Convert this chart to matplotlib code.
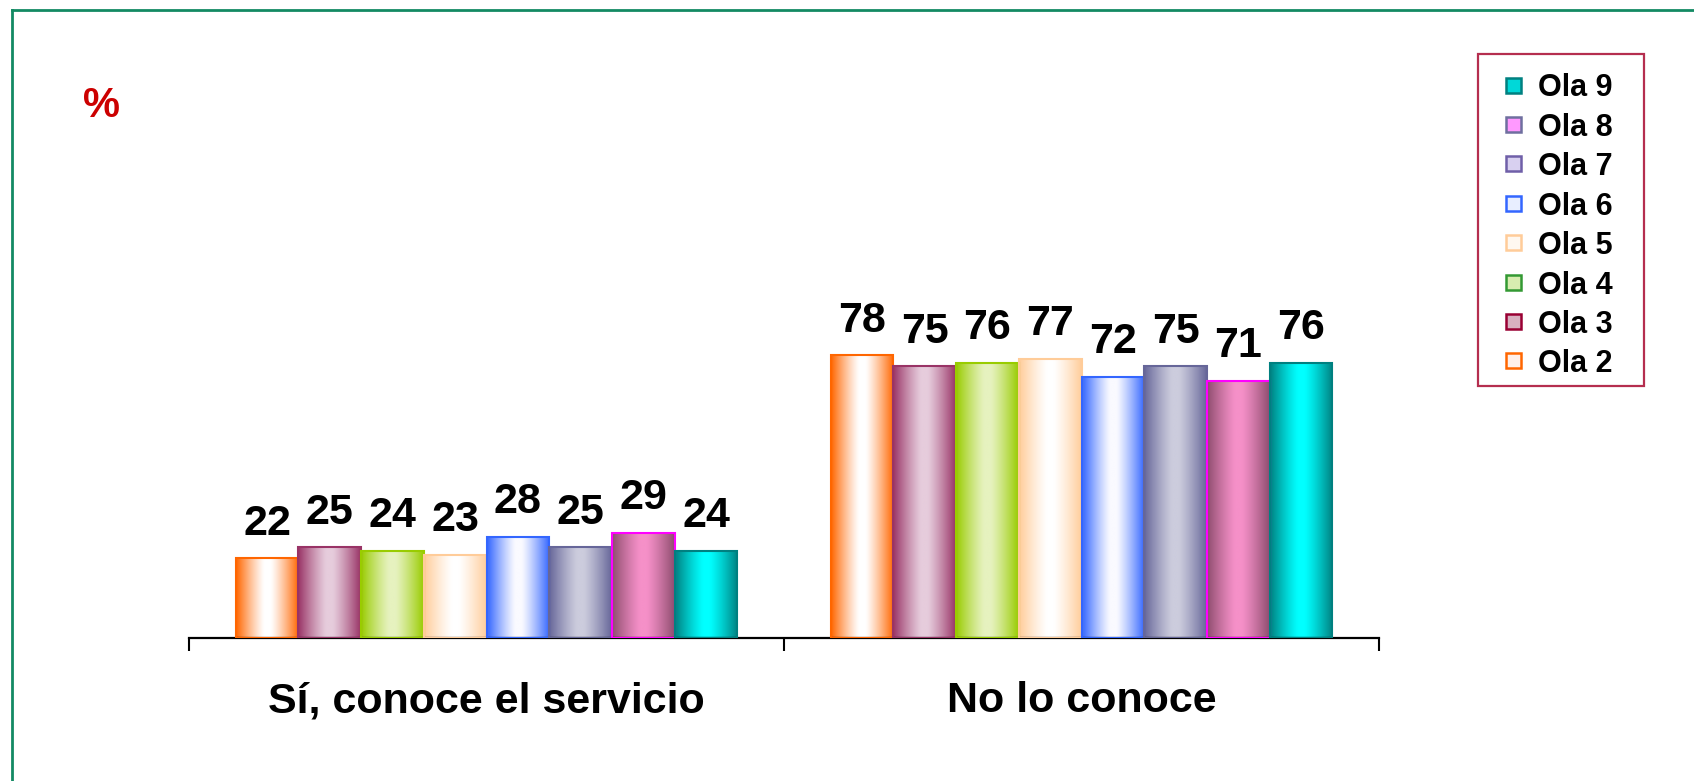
import numpy as np
import matplotlib
matplotlib.use('Agg')
import matplotlib.pyplot as plt
from matplotlib.colors import to_rgb
from matplotlib.patches import Rectangle
from matplotlib.lines import Line2D

plt.rcParams['font.family'] = ['Liberation Sans', 'DejaVu Sans']

categories = ['Sí, conoce el servicio', 'No lo conoce']
series = ['Ola 2', 'Ola 3', 'Ola 4', 'Ola 5', 'Ola 6', 'Ola 7', 'Ola 8', 'Ola 9']
values = {
    'Ola 2': [22, 78],
    'Ola 3': [25, 75],
    'Ola 4': [24, 76],
    'Ola 5': [23, 77],
    'Ola 6': [28, 72],
    'Ola 7': [25, 75],
    'Ola 8': [29, 71],
    'Ola 9': [24, 76],
}
# side colour, centre colour, outline colour of the bars
side_colors = ['#FF6600', '#993366', '#99CC00', '#FFCC99', '#3366FF', '#666699', '#8E4D6E', '#008080']
mid_colors = ['#FFFFFF', '#E6CCDC', '#E6F2BF', '#FFFFFF', '#FAFAFF', '#CCCCDD', '#F590C8', '#00FFFF']
line_colors = ['#FF6600', '#993366', '#99CC00', '#FFCC99', '#3366FF', '#666699', '#FF00FF', '#008080']
# legend swatches
key_edges = ['#FF6600', '#990033', '#339933', '#FFCC99', '#3366FF', '#6F5FA8', '#6F6F9F', '#008080']
key_faces = ['#FFF0EA', '#D8B0C0', '#D8EDB0', '#FFF8F0', '#E8EEFF', '#D8D0F0', '#FF99FF', '#00D8D8']

W, H = 1694, 781
fig = plt.figure(figsize=(W / 100, H / 100), dpi=100)


def fx(x):
    return x / W


def fy(y):
    return 1 - y / H


# axes box in pixels: left 189, right 1379, baseline 638, 3.625 px per unit
ax = fig.add_axes([fx(189), fy(638), fx(1379 - 189), 362.5 / H])

n = len(series)
bw = 0.1054
x = np.arange(len(categories))


def gradient(side, mid, npts=200):
    t = np.abs(np.linspace(-1, 1, npts))
    f = np.clip((t - 0.1) / 0.9, 0, 1) ** 1.2
    s = np.array(to_rgb(side))
    m = np.array(to_rgb(mid))
    row = m[None, :] + (s - m)[None, :] * f[:, None]
    return row[None, :, :]


for i, name in enumerate(series):
    pos = x + (i - (n - 1) / 2) * bw
    bars = ax.bar(pos, values[name], width=bw, facecolor='none',
                  edgecolor=line_colors[i], linewidth=1.5, zorder=3)
    img = gradient(side_colors[i], mid_colors[i])
    for p, v in zip(bars.patches, values[name]):
        ax.imshow(img, extent=[p.get_x(), p.get_x() + p.get_width(), 0, p.get_height()],
                  aspect='auto', zorder=2, interpolation='bilinear')
        ax.annotate(f'{v}', (p.get_x() + p.get_width() / 2, p.get_height()),
                    xytext=(0, 17), textcoords='offset points', ha='center', va='baseline',
                    fontsize=31, fontweight='bold', color='black')

ax.set_xlim(-0.5, len(categories) - 0.5)
ax.set_ylim(0, 100)
ax.set_aspect('auto')
for s in ['top', 'right', 'left']:
    ax.spines[s].set_visible(False)
ax.spines['bottom'].set_linewidth(1.6)
ax.set_yticks([])
ax.set_xticks(np.arange(len(categories) + 1) - 0.5)
ax.set_xticklabels([])
ax.tick_params(axis='x', which='major', direction='out', length=9.5, width=1.5)
ax.set_xticks(x, minor=True)
ax.set_xticklabels(categories, minor=True, fontsize=31, fontweight='bold')
ax.tick_params(axis='x', which='minor', length=0, pad=31)

# percent sign
fig.text(fx(101), fy(106), '%', color='#CC0000', fontsize=30, fontweight='bold',
         ha='center', va='center')

# green frame (top and left edges)
fig.add_artist(Line2D([fx(12), 1.0], [fy(10), fy(10)], color='#138A63', linewidth=2))
fig.add_artist(Line2D([fx(12), fx(12)], [fy(10), 0.0], color='#138A63', linewidth=2))

# legend (Ola 9 at the top)
fig.add_artist(Rectangle((fx(1478), fy(386)), fx(1644 - 1478), (386 - 54) / H,
                         transform=fig.transFigure, facecolor='white',
                         edgecolor='#B52E4F', linewidth=1.6))
row_top, row_step = 85, 39.4
for k, i in enumerate(reversed(range(n))):
    yc = row_top + k * row_step
    fig.add_artist(Rectangle((fx(1506), fy(yc + 7.5)), fx(15), 15 / H,
                             transform=fig.transFigure, facecolor=key_faces[i],
                             edgecolor=key_edges[i], linewidth=1.8))
    fig.text(fx(1538), fy(yc), series[i], fontsize=22, fontweight='bold',
             ha='left', va='center_baseline')

fig.savefig('out.png', dpi=100)
